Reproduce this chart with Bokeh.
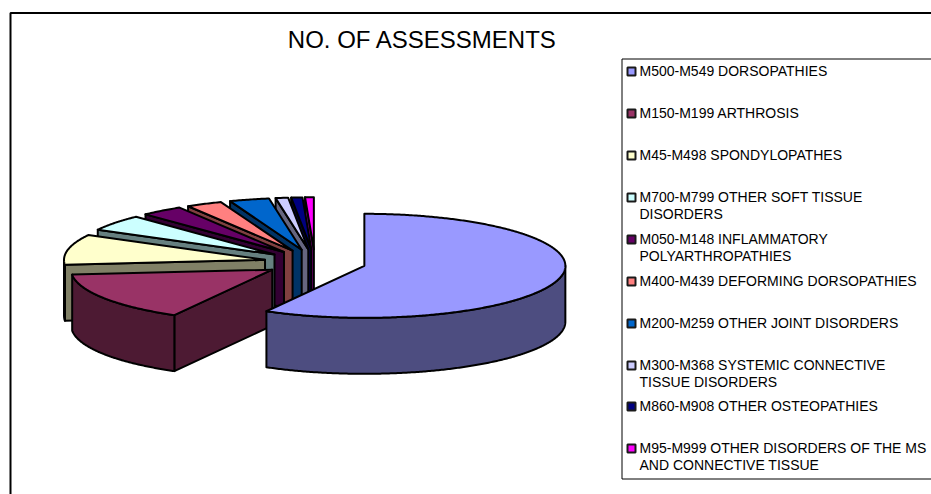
import numpy as np
from bokeh.plotting import figure
from bokeh.models import Range1d
from bokeh.core.properties import value
from bokeh.embed import file_html
from bokeh.resources import INLINE

TITLE = "NO. OF ASSESSMENTS"
labels = [
    ["M500-M549 DORSOPATHIES"],
    ["M150-M199 ARTHROSIS"],
    ["M45-M498 SPONDYLOPATHES"],
    ["M700-M799 OTHER SOFT TISSUE", "DISORDERS"],
    ["M050-M148 INFLAMMATORY", "POLYARTHROPATHIES"],
    ["M400-M439 DEFORMING DORSOPATHIES"],
    ["M200-M259 OTHER JOINT DISORDERS"],
    ["M300-M368 SYSTEMIC CONNECTIVE", "TISSUE DISORDERS"],
    ["M860-M908 OTHER OSTEOPATHIES"],
    ["M95-M999 OTHER DISORDERS OF THE MS", "AND CONNECTIVE TISSUE"],
]
shares = [58.1, 15.4, 9.4, 5.0, 3.4, 2.9, 3.2, 1.0, 0.9, 0.7]
top_colors = ["#9999FF", "#993366", "#FFFFCC", "#CCFFFF", "#660066",
              "#FF8080", "#0066CC", "#CCCCFF", "#000080", "#FF00FF"]
wall_colors = ["#4D4D80", "#4D1A33", "#808066", "#668080", "#330033",
               "#804040", "#003366", "#666680", "#000040", "#800080"]

CX, CY, RX, RY, DEPTH, EXPLODE = 314.5, 262.0, 201.0, 52.0, 56.0, 51.0
FONT = value("Liberation Sans")

p = figure(width=931, height=494, output_backend="svg", toolbar_location=None,
           x_range=Range1d(0, 931), y_range=Range1d(494, 0), min_border=0,
           outline_line_color=None)
p.xaxis.visible = False
p.yaxis.visible = False
p.grid.visible = False

# chart frame (only left and top edges fall inside the window)
p.line([10, 10, 931], [494, 12.5, 12.5], line_color="black", line_width=2)


def arc(ax, ay, t0, t1):
    n = max(2, int(abs(t1 - t0)) * 2)
    th = np.radians(np.linspace(t0, t1, n))
    return ax + RX * np.sin(th), ay - RY * np.cos(th)


def shape(xs, ys, color):
    p.patch(list(xs), list(ys), fill_color=color, line_color="black",
            line_width=2, line_join="round")


edges = np.concatenate([[0], np.cumsum(shares)]) / np.sum(shares) * 360.0
for i in range(len(shares) - 1, -1, -1):
    t0, t1 = edges[i], edges[i + 1]
    mid = np.radians((t0 + t1) / 2)
    ax = CX + EXPLODE * np.sin(mid)
    ay = CY - EXPLODE * RY / RX * np.cos(mid)
    # radial wall at the start of the slice (visible on the far left half)
    if 180 < t0 < 360:
        sx, sy = arc(ax, ay, t0, t0)
        shape([ax, sx[0], sx[0], ax], [ay, sy[0], sy[0] + DEPTH, ay + DEPTH],
              wall_colors[i])
    # outer rim, only where it faces the viewer
    a, b = max(t0, 90), min(t1, 270)
    if b > a:
        rx_, ry_ = arc(ax, ay, a, b)
        shape(np.concatenate([rx_, rx_[::-1]]),
              np.concatenate([ry_, ry_[::-1] + DEPTH]), wall_colors[i])
    # top face
    tx, ty = arc(ax, ay, t0, t1)
    shape(np.concatenate([[ax], tx]), np.concatenate([[ay], ty]), top_colors[i])

p.text([422], [39], text=[TITLE], text_font=FONT, text_font_size="24px",
       text_align="center", text_baseline="middle", text_color="black")

# legend
p.line([931, 621.5, 621.5, 931], [58.5, 58.5, 478.5, 478.5], line_color="black", line_width=1)
first_line_y = [71, 113, 155, 197, 239, 281, 323, 365, 406, 448]
for lines, y0, fc in zip(labels, first_line_y, top_colors):
    p.rect([631], [y0], width=8, height=8, fill_color=fc, line_color="#1a1a1a", line_width=2)
    for k, line in enumerate(lines):
        p.text([639], [y0 - 0.8 + k * 17.5], text=[line], text_font=FONT, text_font_size="14px",
               text_align="left", text_baseline="middle", text_color="black")

open("out.html", "w").write(file_html(p, INLINE))
